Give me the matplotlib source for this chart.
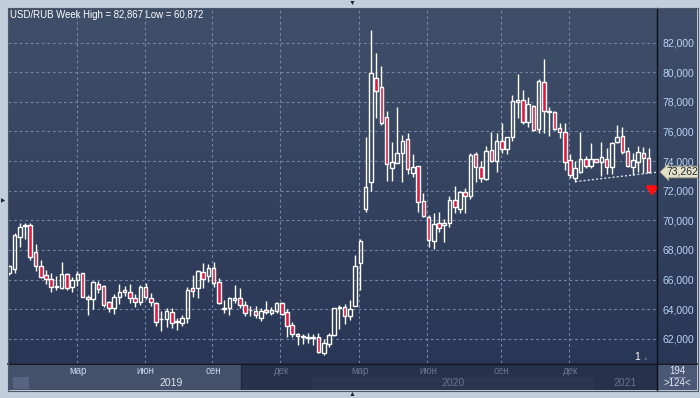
import numpy as np
import matplotlib
matplotlib.use("Agg")
import matplotlib.pyplot as plt
from matplotlib.patches import Rectangle
from matplotlib.lines import Line2D
from matplotlib.transforms import blended_transform_factory

plt.rcParams['font.family'] = ['Liberation Sans', 'DejaVu Sans']

# ---------------- data (weekly USD/RUB candles) ----------------
opens = [66.44, 66.69, 68.89, 69.62, 69.68, 67.84, 66.91, 66.30, 66.03, 65.50,
         65.41, 66.37, 65.47, 65.97, 66.42, 64.84, 64.68, 65.70, 65.56, 64.46,
         64.05, 64.84, 65.18, 65.14, 64.73, 64.50, 65.47, 64.77, 64.39, 63.30,
         63.31, 63.78, 63.20, 63.04, 63.42, 65.41, 65.41, 66.49, 66.24, 66.76,
         65.85, 64.02, 64.05, 64.61, 64.73, 64.28, 63.92, 63.87, 63.42, 63.94,
         63.76, 63.87, 64.39, 63.82, 62.93, 62.32, 62.12, 62.05, 62.05, 62.09,
         61.05, 61.62, 62.25, 64.10, 64.12, 63.55, 64.23, 67.09, 70.74, 72.61,
         79.59, 78.99, 77.00, 73.55, 73.90, 74.53, 75.47, 73.18, 73.67, 71.30,
         70.20, 68.62, 69.80, 69.68, 69.80, 71.37, 70.74, 71.93, 71.66, 74.46,
         73.62, 72.77, 74.75, 74.03, 75.36, 74.82, 75.61, 78.01, 78.13, 76.66,
         77.74, 76.15, 79.32, 77.32, 77.30, 76.22, 75.95, 74.07, 72.88, 73.28,
         74.12, 73.69, 74.12, 73.96, 74.12, 73.62, 75.31, 75.70, 74.68, 73.62,
         73.96, 74.57, 74.19]
highs = [66.95, 69.16, 69.80, 69.84, 69.84, 68.40, 67.32, 66.64, 66.42, 66.24,
         67.18, 66.46, 66.15, 66.59, 66.46, 64.95, 65.90, 65.90, 65.63, 64.57,
         65.00, 65.70, 65.56, 65.70, 65.02, 65.63, 65.74, 65.07, 64.46, 63.87,
         64.05, 64.05, 63.38, 63.60, 65.47, 66.30, 66.64, 67.09, 67.05, 67.16,
         66.08, 64.61, 64.84, 65.63, 65.41, 64.55, 64.23, 64.23, 64.05, 64.55,
         64.16, 64.46, 64.50, 63.98, 63.15, 62.41, 62.30, 62.36, 62.30, 62.41,
         61.96, 62.36, 64.09, 64.28, 64.34, 64.61, 67.66, 68.75, 75.65, 82.867,
         81.28, 80.43, 77.41, 75.27, 77.64, 75.76, 75.88, 74.48, 73.67, 71.86,
         70.36, 70.47, 70.54, 70.07, 71.64, 72.32, 72.00, 72.16, 74.57, 74.64,
         74.01, 75.02, 75.99, 75.88, 76.59, 75.65, 78.47, 79.89, 78.80, 78.35,
         77.79, 79.55, 80.88, 77.64, 77.39, 76.59, 76.59, 74.48, 74.01, 75.95,
         74.36, 75.24, 74.15, 75.27, 74.91, 75.31, 76.44, 76.32, 74.97, 74.53,
         75.02, 74.97, 74.91]
lows = [66.30, 66.46, 68.22, 68.72, 67.32, 66.59, 66.08, 65.68, 65.18, 65.29,
        65.34, 65.29, 65.18, 65.56, 64.80, 63.60, 63.99, 65.07, 64.16, 63.82,
        63.67, 64.34, 64.88, 64.43, 64.16, 64.28, 64.68, 64.21, 62.86, 62.53,
        62.81, 62.70, 62.59, 62.86, 63.08, 64.84, 64.77, 65.45, 65.85, 65.51,
        64.34, 63.72, 63.60, 64.39, 64.05, 63.53, 63.53, 63.38, 63.22, 63.67,
        63.60, 63.76, 63.60, 62.14, 62.14, 61.57, 61.64, 61.69, 61.57, 61.01,
        60.872, 61.42, 62.18, 62.64, 62.97, 63.26, 64.21, 65.29, 70.58, 72.00,
        76.93, 76.44, 72.66, 72.68, 73.85, 72.61, 73.13, 72.95, 70.58, 70.20,
        68.22, 68.04, 69.19, 68.55, 69.57, 70.47, 70.47, 70.51, 71.42, 72.61,
        72.61, 72.72, 73.96, 73.28, 74.53, 74.48, 75.38, 76.89, 76.51, 76.32,
        76.05, 75.92, 75.92, 75.70, 76.10, 75.54, 73.40, 72.84, 72.61, 73.22,
        73.55, 73.51, 73.94, 72.99, 73.13, 73.13, 75.24, 74.48, 73.62, 73.06,
        73.28, 73.22, 73.18]
closes = [66.91, 69.01, 69.57, 69.68, 67.54, 66.91, 66.19, 66.01, 65.51, 65.56,
          66.37, 65.41, 65.97, 66.37, 64.84, 64.66, 65.81, 65.34, 64.28, 64.05,
          64.84, 65.14, 65.29, 64.73, 64.50, 65.47, 64.80, 64.48, 63.11, 63.36,
          63.87, 63.04, 63.12, 63.42, 65.29, 65.24, 66.57, 66.03, 66.76, 65.78,
          64.39, 64.08, 64.73, 64.73, 64.28, 63.72, 63.97, 63.58, 63.87, 63.78,
          63.94, 64.39, 63.67, 62.86, 62.32, 62.20, 62.16, 62.09, 62.09, 61.08,
          61.69, 62.25, 64.05, 64.14, 63.55, 64.01, 66.91, 68.60, 72.23, 79.93,
          78.76, 76.55, 73.78, 73.92, 74.53, 75.34, 73.45, 73.58, 71.26, 70.31,
          68.67, 69.75, 69.46, 69.80, 71.37, 70.88, 71.89, 71.66, 74.41, 73.62,
          72.84, 74.70, 74.03, 75.36, 74.82, 75.65, 78.06, 78.13, 76.66, 77.84,
          76.10, 79.41, 77.39, 77.39, 76.15, 75.95, 73.96, 73.06, 73.51, 74.12,
          73.69, 74.12, 73.96, 74.30, 73.58, 75.20, 75.61, 74.64, 73.69, 74.07,
          74.64, 74.23, 73.262]

price_ticks = [62, 64, 66, 68, 70, 72, 74, 76, 78, 80, 82]
month_pos = [12.9, 25.8, 38.7, 51.7, 66.8, 79.8, 93.8, 106.8]
month_labels = ["мар", "июн", "сен", "дек", "мар", "июн", "сен", "дек"]
year_pos = [30.9, 84.7, 117.5]
year_labels = ["2019", "2020", "2021"]
trend_idx = [108, 119]          # candles whose lows define the support line
title = "USD/RUB Week High = 82,867 Low = 60,872"

# ---------------- figure ----------------
W, H = 700, 398
fig = plt.figure(figsize=(W / 100, H / 100), dpi=100)
fig.patch.set_facecolor("#c3cedd")

def fr(x0, y0, x1, y1):
    return [x0 / W, 1 - y1 / H, (x1 - x0) / W, (y1 - y0) / H]

# gradient background for plot + price scale
ax_bg = fig.add_axes(fr(8, 8, 697, 363))
top = np.array([64, 79, 105]) / 255
bot = np.array([41, 55, 86]) / 255
t = np.linspace(0, 1, 256)[:, None]
grad = top[None, :] * (1 - t) + bot[None, :] * t
ax_bg.imshow(grad[:, None, :].repeat(2, axis=1), aspect="auto", extent=[0, 1, 0, 1])
ax_bg.set_axis_off()

ax = fig.add_axes(fr(8, 8, 657, 363))
ax.patch.set_alpha(0)
xlo, xhi = -0.25, 123.6
ax.set_xlim(xlo, xhi)
ax.set_ylim(60.36, 84.34)

grid_kw = dict(color="#7486a6", lw=0.8, dashes=(2.5, 2.5), zorder=1)
for p in price_ticks:
    ax.axhline(p, **grid_kw)
for m in month_pos:
    ax.axvline(m, **grid_kw)

# candles
o = np.array(opens); h = np.array(highs); l = np.array(lows); c = np.array(closes)
x = np.arange(len(o))
top_b = np.maximum(o, c); bot_b = np.minimum(o, c)
hgt = np.maximum(top_b - bot_b, 0.015)
up = c >= o
ax.vlines(x, top_b, h, color="white", lw=1, zorder=3)
ax.vlines(x, l, bot_b, color="white", lw=1, zorder=3)
bw = 0.68
ax.bar(x[up], hgt[up], bottom=bot_b[up], width=bw, facecolor="none",
       edgecolor="white", linewidth=1, zorder=4)
ax.bar(x[~up], hgt[~up], bottom=bot_b[~up], width=bw, facecolor="#e3173e",
       edgecolor="white", linewidth=1, zorder=4)

# support line through two lows, extended to the right edge
x1, x2 = trend_idx
y1, y2 = lows[x1], lows[x2]
slope = (y2 - y1) / (x2 - x1)
ax.plot([x1, xhi], [y1, y1 + slope * (xhi - x1)], color="#d8dde6", lw=1,
        dashes=(1.5, 1.5), zorder=5)

# axis styling
for s in ["left", "top", "bottom", "right"]:
    ax.spines[s].set_visible(False)
ax.set_xticks([])
ax.yaxis.tick_right()
ax.set_yticks(price_ticks)
ax.set_yticklabels([f"{p:.3f}".replace(".", ",") for p in price_ticks])
ax.tick_params(axis="y", length=0, pad=4, labelcolor="#b9d4f6", labelsize=7.5)

# last-price tag
bt = blended_transform_factory(ax.transAxes, ax.transData)
ax.text(1.014, closes[-1], f"{closes[-1]:.3f}".replace(".", ","), transform=bt,
        ha="left", va="center", fontsize=7.5, color="#1b2638", zorder=10,
        clip_on=False,
        bbox=dict(boxstyle="larrow,pad=0.08", fc="#e4e0c6", ec="#9a9a88", lw=0.6))
ax.annotate("", xy=(0.9925, 71.45), xytext=(0.9925, 72.4), xycoords=bt, textcoords=bt,
            arrowprops=dict(arrowstyle="-|>,head_length=0.5,head_width=0.35",
                            color="#ff1010", lw=2.0, mutation_scale=10), zorder=10)

fig.text(10 / W, 1 - 15 / H, title, fontsize=6.9, color="white", va="center", ha="left")
fig.text(637 / W, 1 - 357 / H, "1", fontsize=7.5, color="white", va="center", ha="center")
fig.text(646 / W, 1 - 358 / H, "▲", fontsize=4, color="#56678a", va="center", ha="center")

# bottom time panel
axb = fig.add_axes(fr(8, 364, 657, 390))
axb.set_xlim(xlo, xhi)
axb.set_ylim(0, 1)
axb.set_facecolor("#26324b")
axb.add_patch(Rectangle((57.8, 0), 111.6 - 57.8, 0.5, color="#2a3650", lw=0))
axb.add_patch(Rectangle((xlo, 0), 44.2 - xlo, 1, color="#44516b", lw=0))
axb.add_patch(Rectangle((0.7, 0.04), 3.1, 0.46, color="#56647f", lw=0))
axb.axvline(44.2, color="#1e2840", lw=1)
for m, lab in zip(month_pos, month_labels):
    col = "#c7d6ee" if m < 44.2 else "#66748d"
    axb.text(m + 0.2, 0.72, lab, ha="center", va="center", fontsize=7, color=col)
for yp, lab in zip(year_pos, year_labels):
    col = "#dce6f5" if yp < 44.2 else "#66748d"
    axb.text(yp, 0.28, lab, ha="center", va="center", fontsize=7.5, color=col)
axb.set_xticks([]); axb.set_yticks([])
for s in axb.spines.values():
    s.set_visible(False)

# bottom-right counter box
axc = fig.add_axes(fr(657, 364, 697, 390))
axc.set_facecolor("#4a5875")
axc.set_xlim(0, 1); axc.set_ylim(0, 1)
axc.text(0.5, 0.75, "194", ha="center", va="center", fontsize=7, color="#e2e9f5")
axc.text(0.5, 0.25, ">124<", ha="center", va="center", fontsize=7, color="#e2e9f5")
axc.plot([0.3, 0.7], [0.5, 0.5], color="#8a9ab4", lw=0.6)
axc.set_xticks([]); axc.set_yticks([])
for s in axc.spines.values():
    s.set_visible(False)

# frame lines
def fline(xs, ys, col, lw=1.0):
    fig.add_artist(Line2D([v / W for v in xs], [1 - v / H for v in ys],
                          color=col, lw=lw, transform=fig.transFigure))

fline([657, 657], [8, 390], "#0a0f18", 1.0)
fline([8, 697], [363.5, 363.5], "#0a0f18", 1.2)
fline([7.5, 697.5, 697.5, 7.5, 7.5], [7.5, 7.5, 390.5, 390.5, 7.5], "#4e5868", 0.8)
fig.text(352 / W, 1 - 3 / H, "▼", fontsize=5, color="#1d2636", ha="center", va="center")
fig.text(352 / W, 1 - 395 / H, "▲", fontsize=5, color="#1d2636", ha="center", va="center")
fig.text(3 / W, 1 - 201 / H, "▶", fontsize=4, color="#1d2636", ha="center", va="center")

fig.savefig("out.png", dpi=100, facecolor=fig.get_facecolor())
